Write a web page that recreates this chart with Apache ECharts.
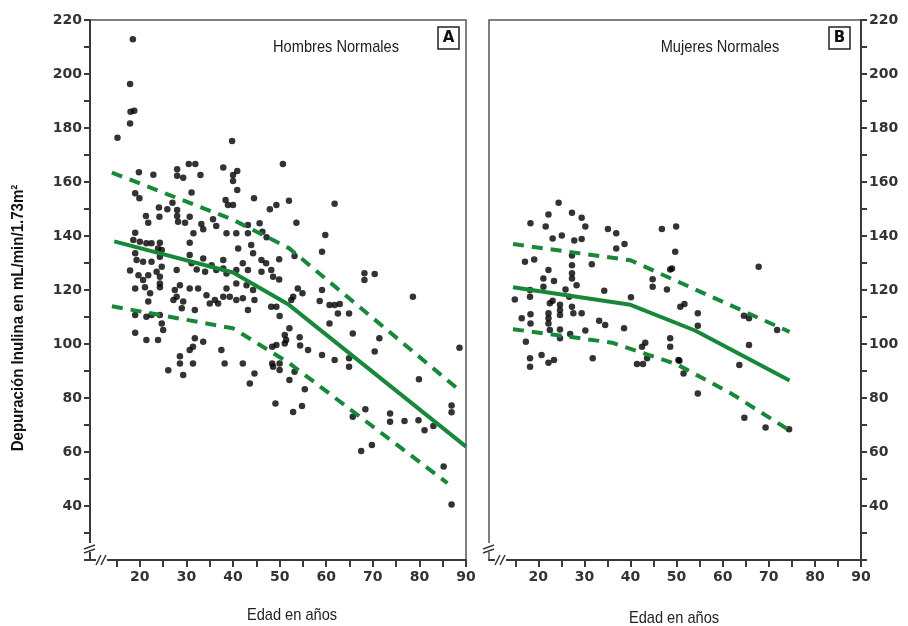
<!DOCTYPE html>
<html><head><meta charset="utf-8">
<script src="https://cdn.jsdelivr.net/npm/echarts@6/dist/echarts.min.js"></script>
<style>html,body{margin:0;padding:0;background:#fff}#c{width:908px;height:626px}</style>
</head><body><div id="c"></div>
<script>
// ---- data ----
const xTickValues = [15,20,25,30,35,40,45,50,55,60,65,70,75,80,85,90];
const xLabelValues = [20,30,40,50,60,70,80,90];
const yLabelValues = [40,60,80,100,120,140,160,180,200,220];

const menPoints = [
[18.5,212.9],[17.9,196.3],[18.0,186.0],[18.8,186.4],[17.9,181.7],[15.2,176.4],[19.8,163.6],[22.9,162.7],[19.0,155.8],[19.9,154.0],
[28.0,164.7],[28.0,162.3],[29.3,161.6],[30.5,166.7],[31.9,166.7],[33.0,162.6],[31.1,156.1],[27.0,152.3],[25.9,149.9],[37.9,165.4],
[39.8,175.2],[40.0,162.6],[40.0,160.4],[40.9,164.1],[40.9,157.0],[38.4,153.3],[38.9,151.5],[40.0,151.5],[44.5,154.0],[49.3,151.5],
[47.9,149.9],[50.7,166.7],[52.0,153.1],[61.8,151.9],
[24.1,150.6],[24.2,147.1],[21.3,147.4],[21.8,144.9],[28.0,149.6],[28.0,147.4],[28.2,145.3],[30.7,147.1],[29.7,144.9],[33.2,144.4],
[33.6,142.5],[31.5,141.0],[35.7,146.2],[36.4,143.7],[38.6,141.0],[40.7,141.0],[43.2,144.1],[43.2,141.0],[45.7,144.7],[46.3,141.6],
[47.2,139.5],[19.0,141.2],[18.6,138.5],[20.0,137.9],[21.4,137.3],[22.5,137.3],[24.3,137.5],[23.9,135.4],[24.7,134.8],[19.0,133.6],
[19.3,131.1],[20.7,130.5],[22.5,130.5],[24.3,132.3],[24.7,128.6],[17.9,127.2],[19.7,125.5],[20.7,123.7],[21.8,125.5],[23.6,126.8],
[24.3,124.9],[19.0,120.6],[21.1,121.0],[22.2,118.8],[24.3,121.0],[24.3,122.4],[27.9,127.4],[30.7,133.0],[31.1,129.9],[32.2,127.6],
[30.7,137.5],[33.6,131.7],[35.4,129.2],[34.0,126.8],[36.4,127.4],[37.9,131.1],[37.9,128.0],[38.6,126.1],[40.7,127.4],[42.1,129.9],
[43.2,127.4],[43.9,136.7],[44.3,133.6],[46.1,131.1],[47.1,129.9],[46.1,126.8],[48.2,127.4],[48.6,124.9],[41.1,135.4],[40.7,122.4],
[42.9,121.8],[44.3,120.0],[38.6,120.6],[37.9,117.5],[36.1,116.3],[34.3,118.1],[32.5,120.6],[30.7,120.6],[28.6,121.8],[27.5,120.0],
[27.9,117.5],[27.2,116.3],[29.3,115.7],[29.0,113.2],[31.8,112.6],[35.0,115.0],[36.8,115.0],[39.3,117.5],[40.7,116.3],[42.1,116.9],
[43.2,112.6],[44.6,116.3],[48.2,113.8],[49.3,113.8],[21.8,115.7],[21.4,110.1],[22.5,110.7],[24.3,110.7],[24.7,107.6],[25.0,105.2],
[19.0,110.7],[19.0,104.2],[21.4,101.5],[23.9,101.5],[31.8,102.1],[33.6,100.8],[31.4,99.0],[30.7,97.8],[28.6,95.5],[28.6,92.8],
[31.4,92.8],[26.1,90.3],[29.3,88.5],[37.5,97.8],[38.2,92.8],[42.1,92.8],[44.6,89.1],[43.6,85.4],[48.4,99.0],[48.4,92.8],[48.6,91.6],
[53.6,144.9],[59.8,140.4],[59.1,134.2],[53.2,132.6],[49.9,131.4],[49.9,123.9],[68.2,126.2],[68.2,123.7],[70.4,125.9],[53.9,120.6],
[54.9,118.8],[52.9,117.5],[52.5,116.3],[59.1,120.0],[58.6,115.9],[60.7,114.4],[61.8,114.4],[62.9,114.8],[62.5,111.3],[64.9,111.3],
[50.0,110.4],[60.7,107.6],[78.6,117.5],[65.7,103.9],[71.4,102.1],[52.1,105.8],[51.1,103.3],[51.4,101.5],[51.1,100.2],[54.3,102.5],
[54.4,99.4],[56.1,97.8],[49.3,99.6],[59.1,95.9],[61.8,94.1],[64.9,94.7],[64.9,91.6],[70.4,97.2],[88.6,98.6],[79.9,86.9],
[50.0,92.8],[50.0,90.4],[53.2,89.7],[52.1,86.7],[55.4,83.2],
[49.1,78.0],[52.9,74.8],[54.8,77.0],[65.7,73.1],[68.4,75.8],[67.5,60.4],[69.8,62.6],[73.7,74.3],[73.7,71.2],[76.8,71.5],
[79.8,71.8],[81.1,68.1],[83.0,69.6],[85.2,54.6],[86.9,77.2],[86.9,74.7],[86.9,40.6]
];

const womenPoints = [
[24.4,152.3],[22.2,148.0],[27.3,148.6],[29.4,146.8],[18.3,144.7],[21.6,143.5],[30.2,143.5],[23.1,139.1],[25.1,140.2],[27.8,138.3],
[29.4,138.9],[35.1,142.6],[36.9,141.0],[36.9,135.4],[38.7,137.0],[46.8,142.6],[49.9,143.5],[17.1,130.5],[19.1,131.3],[27.3,132.8],
[27.3,129.2],[27.3,126.2],[27.3,124.3],[22.2,127.4],[31.6,129.5],[28.3,121.8],[21.1,124.3],[21.1,121.2],[23.4,123.3],[18.2,120.0],
[18.2,117.5],[14.9,116.5],[25.9,120.2],[26.7,117.5],[34.3,119.7],[40.1,117.3],[44.8,124.0],[44.8,121.2],[47.9,120.2],[48.6,127.6],
[22.5,115.1],[23.1,116.0],[24.7,114.5],[24.7,112.6],[24.7,110.7],[27.3,113.8],[27.6,111.4],[22.2,111.4],[22.2,109.5],[22.2,107.6],
[29.4,111.4],[16.4,109.5],[18.3,111.0],[18.3,107.6],[33.2,108.6],[34.5,107.0],[38.6,105.8],[30.2,105.0],[24.7,105.4],[24.7,102.1],
[26.9,103.7],[22.5,105.2],[17.3,100.8],[43.2,100.5],[48.6,102.1],[48.6,99.0],[42.5,99.0],
[18.2,94.7],[18.2,91.6],[20.7,95.9],[22.2,93.1],[23.4,94.1],[31.8,94.7],[41.4,92.6],[42.7,92.6],[43.6,94.7],[50.4,94.1],
[49.7,134.2],[49.0,128.0],[67.8,128.6],[50.8,113.8],[51.7,114.8],[54.6,111.4],[54.6,106.8],[64.6,110.5],[65.7,109.5],[71.8,105.2],
[65.7,99.6],[50.6,93.8],[51.5,89.1],[54.6,81.7],[63.6,92.2],[64.7,72.7],[69.3,69.1],[74.4,68.4]
];

const menFit   = [[14.5,138],[40,126.5],[52,114.5],[90,62]];
const menUpper = [[14,163.5],[40,146],[52,135.5],[88.5,83]];
const menLower = [[14,114],[40,105.8],[52,93],[86,48.5]];
const womenFit   = [[14.5,121],[40,114.5],[54,105],[74.5,86.5]];
const womenUpper = [[14.5,137],[40,131],[74.5,104.5]];
const womenLower = [[14.5,105.5],[36,100.5],[50,92.5],[62,81.5],[74.5,68]];

// ---- styles ----
const AX = '#3a3a3a';
const GREEN = '#17883a';
const labelFont = {fontFamily:'DejaVu Sans', fontSize:14, fontWeight:'bold', color:'#333'};
const narrow = "'Liberation Sans',Arial,sans-serif";

function xAx(gi){
  return {gridIndex:gi, type:'value', min:9.3, max:90,
    axisLine:{show:true, onZero:false, lineStyle:{color:AX, width:2}},
    axisTick:{show:true, length:7, customValues:xTickValues, lineStyle:{color:AX, width:2}},
    axisLabel:Object.assign({customValues:xLabelValues, margin:10}, labelFont),
    splitLine:{show:false}};
}
function yAx(gi, pos, showLab){
  return {gridIndex:gi, type:'value', min:20, max:220, interval:10, position:pos,
    axisLine:{show:true, onZero:false, lineStyle:{color:AX, width:2}},
    axisTick:{show:true, length:6, interval:0, lineStyle:{color:AX, width:2}},
    axisLabel:Object.assign({show:showLab, interval:0, margin:8,
      formatter:v => yLabelValues.indexOf(v) >= 0 ? String(v) : ''}, labelFont),
    splitLine:{show:false}};
}
function lineSeries(data, gi, dashed){
  return {type:'line', xAxisIndex:gi, yAxisIndex:gi, data:data, showSymbol:false, symbol:'none',
    z:5, silent:true,
    lineStyle:{color:GREEN, width:4, type: dashed ? [11,8] : 'solid', cap:'butt'}};
}
function scatterSeries(data, gi){
  return {type:'scatter', xAxisIndex:gi, yAxisIndex:gi, data:data, symbolSize:6.5, z:3,
    itemStyle:{color:'#000'}};
}
function breakMarks(x0, yBottom){
  return [
    {type:'rect', shape:{x:x0-6, y:yBottom-17, width:12, height:9}, style:{fill:'#fff'}, z:100},
    {type:'line', shape:{x1:x0-6, y1:yBottom-11, x2:x0+5, y2:yBottom-15}, style:{stroke:AX, lineWidth:1.5}, z:101},
    {type:'line', shape:{x1:x0-6, y1:yBottom-7, x2:x0+5, y2:yBottom-11}, style:{stroke:AX, lineWidth:1.5}, z:101},
    {type:'rect', shape:{x:x0+6, y:yBottom-4, width:11, height:8}, style:{fill:'#fff'}, z:100},
    {type:'line', shape:{x1:x0+6, y1:yBottom+5, x2:x0+11, y2:yBottom-5}, style:{stroke:AX, lineWidth:1.5}, z:101},
    {type:'line', shape:{x1:x0+11, y1:yBottom+5, x2:x0+16, y2:yBottom-5}, style:{stroke:AX, lineWidth:1.5}, z:101}
  ];
}
function boxLabel(x, y, t){
  return [
    {type:'rect', shape:{x:x, y:y, width:21, height:22}, style:{fill:'#fff', stroke:'#222', lineWidth:1.5}, z:50},
    {type:'text', x:x+10.5, y:y+11, style:{text:t, fontFamily:'DejaVu Sans', fontWeight:'bold', fontSize:15, fill:'#111', align:'center', verticalAlign:'middle'}, z:51}
  ];
}
function narrowText(x, y, t, extra){
  return Object.assign({type:'text', x:x, y:y, scaleX:0.86,
    style:{text:t, fontFamily:narrow, fontSize:17, fill:'#222', align:'center', verticalAlign:'middle'}}, extra || {});
}

const chart = echarts.init(document.getElementById('c'));
chart.setOption({
  animation:false,
  backgroundColor:'#fff',
  grid:[
    {left:90, right:442, top:20, bottom:66, show:true, borderColor:'#555', borderWidth:1.5, backgroundColor:'transparent'},
    {left:489, right:47, top:20, bottom:66, show:true, borderColor:'#555', borderWidth:1.5, backgroundColor:'transparent'}
  ],
  xAxis:[xAx(0), xAx(1)],
  yAxis:[yAx(0,'left',true), yAx(1,'right',true)],
  series:[
    scatterSeries(menPoints,0),
    scatterSeries(womenPoints,1),
    lineSeries(menFit,0,false), lineSeries(menUpper,0,true), lineSeries(menLower,0,true),
    lineSeries(womenFit,1,false), lineSeries(womenUpper,1,true), lineSeries(womenLower,1,true)
  ],
  graphic:[].concat(
    breakMarks(90, 560), breakMarks(489, 560),
    boxLabel(438, 27, 'A'), boxLabel(829, 27, 'B'),
    [
      narrowText(336, 47, 'Hombres Normales'),
      narrowText(720, 47, 'Mujeres Normales'),
      narrowText(292, 615, 'Edad en años'),
      narrowText(674, 618, 'Edad en años'),
      {type:'text', x:19, y:318, rotation:Math.PI/2, scaleX:0.94,
        style:{text:'Depuración Inulina en mL/min/1.73m²', fontFamily:narrow, fontWeight:'bold', fontSize:16, fill:'#111', align:'center', verticalAlign:'middle'}}
    ]
  )
});
</script></body></html>
